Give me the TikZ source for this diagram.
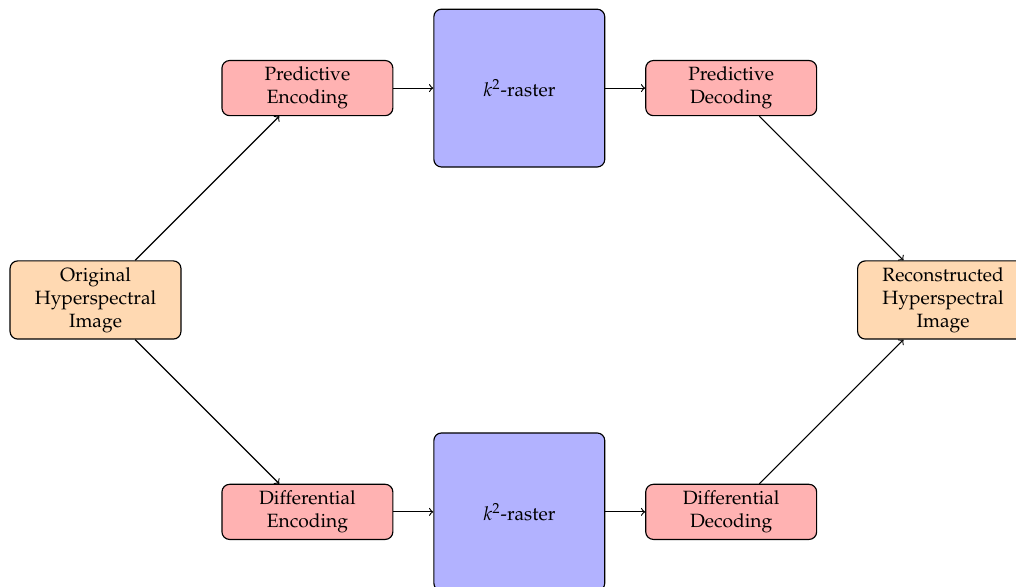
\documentclass[tikz,border=0pt]{standalone}
\usepackage[T1]{fontenc}
\usepackage{mathpazo}
\usepackage{tikz}
\usetikzlibrary{positioning, arrows}
\tikzset{
->, % every connector is directed
node distance=3.88cm and 3.88cm, % spacing between block centres
on grid, % measure from centre to centre
block/.style={draw, rounded corners, align=center, minimum width=3.13cm}, % common look of the boxes
image/.style={block, fill=orange!30, minimum height=1.39cm}, % input and output images
coding/.style={block, fill=red!30, minimum height=0.97cm}, % encoder and decoder steps
raster/.style={block, fill=blue!30, minimum height=2.89cm}, % compressed representation
}

\begin{document}
\begin{tikzpicture}[semithick]
        \useasboundingbox (-1.749,-5.255) rectangle (16.855,5.493);

        \node[image] (hsi) {Original\\Hyperspectral\\Image};
        \node[coding, above right=of hsi] (penc) {Predictive\\Encoding};
        \node[raster, right=of penc] (rast1) {$k^2$-raster};
        \node[coding, right=of rast1] (pdec) {Predictive\\Decoding};
        \node[image, below right=of pdec] (rec) {Reconstructed\\Hyperspectral\\Image};
        \node[coding, below right=of hsi] (denc) {Differential\\Encoding};
        \node[raster, right=of denc] (rast2) {$k^2$-raster};
        \node[coding, right=of rast2] (ddec) {Differential\\Decoding};


        \draw (hsi) edge (penc)
        (penc) edge (rast1)
        (rast1) edge (pdec)
        (pdec) edge (rec)
        (hsi) edge (denc)
        (denc) edge (rast2)
        (rast2) edge (ddec)
        (ddec) edge (rec);
      \end{tikzpicture}
\end{document}
